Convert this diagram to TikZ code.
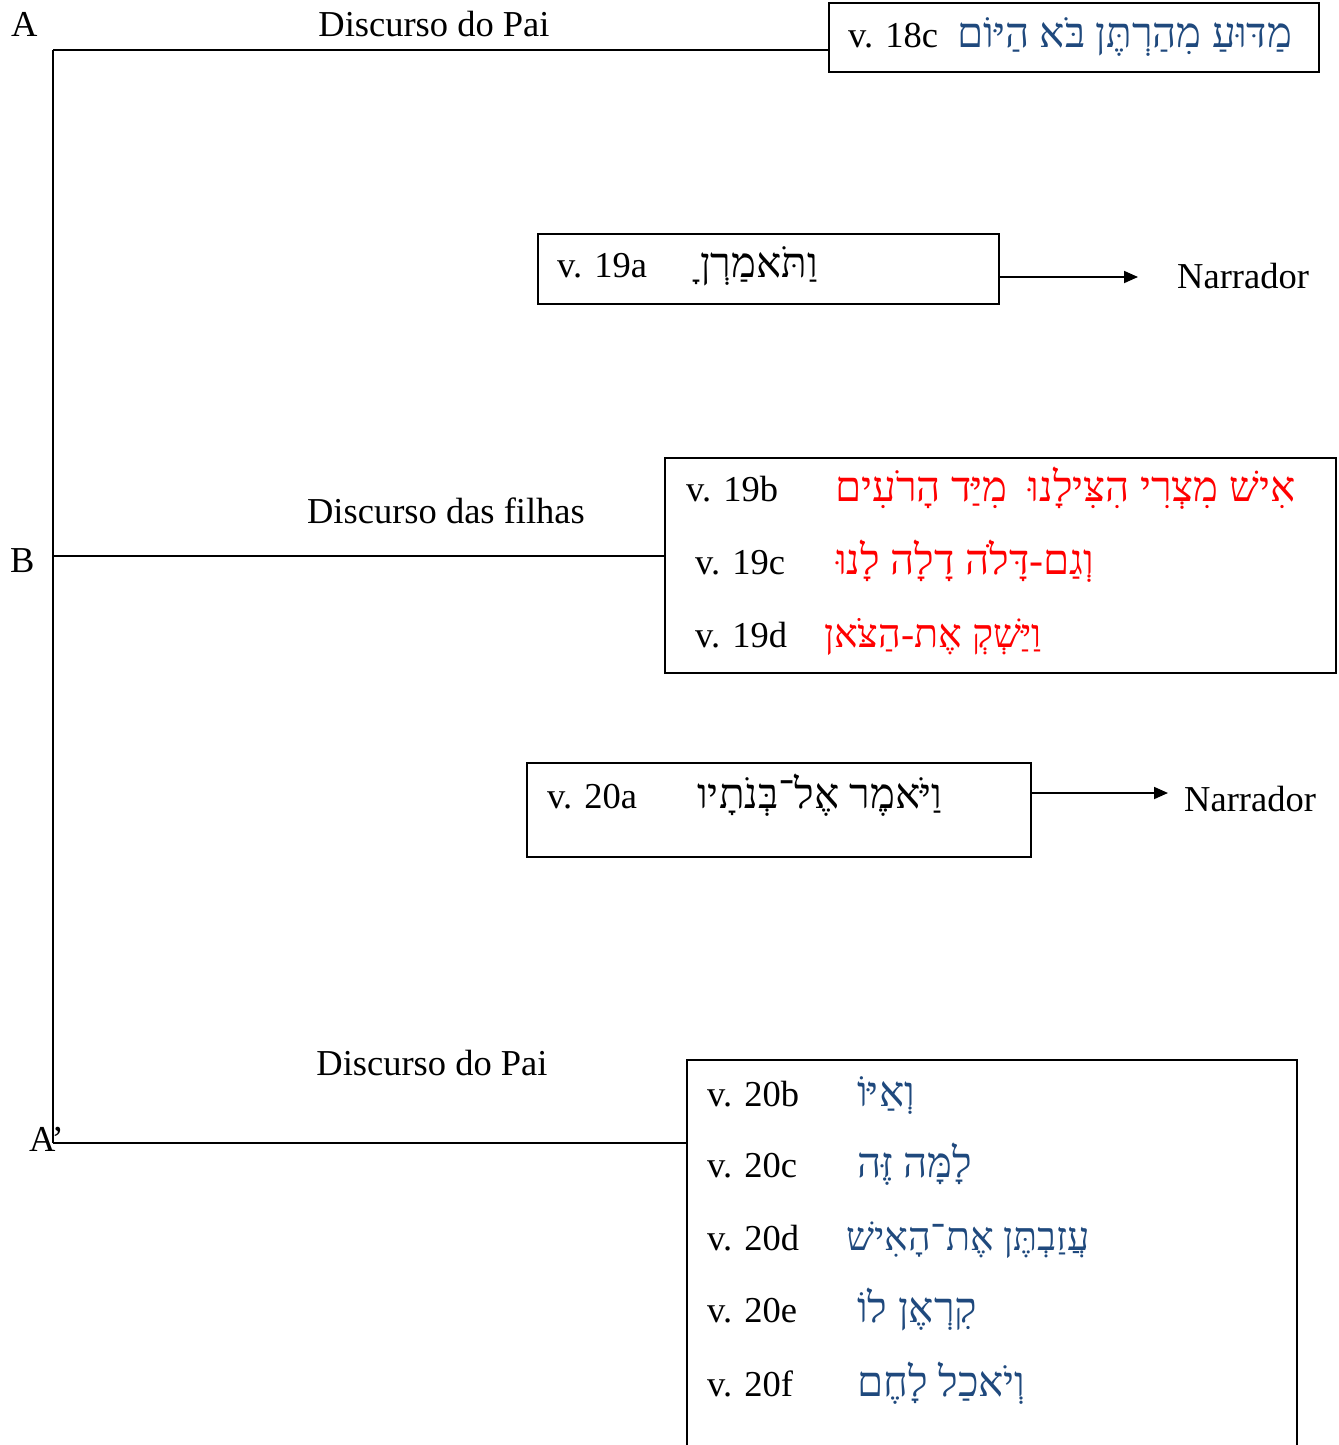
\documentclass[tikz,border=0pt]{standalone}
\usepackage{fontspec}
\setmainfont{Liberation Serif}
\newfontfamily\hebfont[Script=Hebrew]{Liberation Serif}
\TeXXeTstate=1
\usetikzlibrary{arrows.meta}
\definecolor{hebblue}{RGB}{31,73,125}
\definecolor{hebred}{RGB}{255,0,0}
\begin{document}
\begin{tikzpicture}[x=1pt,y=-1pt,
  txt/.style={anchor=base west,inner sep=0pt,font=\fontsize{36.5}{44}\selectfont},
  heb/.style={anchor=base west,inner sep=0pt,font=\hebfont\fontsize{42}{48}\selectfont},
  hebs/.style={anchor=base west,inner sep=0pt,font=\hebfont\fontsize{39.5}{48}\selectfont},
  boxn/.style={draw,line width=1.8pt,anchor=north west,inner sep=0pt},
  conn/.style={line width=1.8pt},
  arr/.style={line width=1.8pt,-{Triangle[length=14pt,width=12pt]}}]
\useasboundingbox (0,0) rectangle (1338,1445);
\clip (0,0) rectangle (1338,1445);
% boxes
\node[boxn,minimum width=490,minimum height=69] (b1) at (828,2) {};
\node[boxn,minimum width=461,minimum height=70] (b2) at (537,233) {};
\node[boxn,minimum width=671,minimum height=215] (b3) at (664,457) {};
\node[boxn,minimum width=504,minimum height=94] (b4) at (526,762) {};
\node[boxn,minimum width=610,minimum height=420] (b5) at (686,1059) {};
% level letters
\node[txt] (lA) at (11,37) {A};
\node[txt] (lB) at (10,572) {B};
\node[txt] (lA2) at (29,1151) {A’};
% discourse labels
\node[txt,anchor=base] (d1) at (434,37) {Discurso do Pai};
\node[txt,anchor=base] (d2) at (446,523) {Discurso das filhas};
\node[txt,anchor=base] (d3) at (432,1075) {Discurso do Pai};
% tree lines
\coordinate (ctop) at (53,50);
\coordinate (cmid) at (53,556);
\coordinate (cbot) at (53,1143);
\draw[conn] (ctop) -- (cbot);
\draw[conn] (ctop) -- (ctop -| b1.west);
\draw[conn] (cmid) -- (cmid -| b3.west);
\draw[conn] (cbot) -- (cbot -| b5.west);
% box 1
\node[txt] (v18c) at (848,48) {v. 18c};
\node[heb,text=hebblue] (h18c) at (957,48) {\beginR מַדּוּעַ מִהַרְתֶּן בֹּא הַיּוֹם\endR};
% box 2
\node[txt] (v19a) at (557,277) {v. 19a};
\node[heb] (h19a) at (700,277) {\beginR וַתֹּאמַרְןָ\endR};
\node[txt,anchor=base west] (n1) at (1177,288) {Narrador};
\coordinate (a1) at (1138,277);
\draw[arr] (b2.east |- a1) -- (a1);
% box 3
\node[txt] (v19b) at (686,501) {v. 19b};
\node[heb,text=hebred] (h19b) at (835,501) {\beginR אִישׁ מִצְרִי הִצִּילָנוּ\ \ מִיַּד הָרֹעִים\endR};
\node[txt] (v19c) at (695,574) {v. 19c};
\node[heb,text=hebred] (h19c) at (836,574) {\beginR וְגַם-דָּלֹה דָלָה לָנוּ\endR};
\node[txt] (v19d) at (695,647) {v. 19d};
\node[hebs,text=hebred] (h19d) at (824,647) {\beginR וַיַּשְׁקְ אֶת-הַצֹּאן\endR};
% box 4
\node[txt] (v20a) at (547,808) {v. 20a};
\node[heb] (h20a) at (697,808) {\beginR וַיֹּאמֶר אֶל־בְּנֹתָיו\endR};
\node[txt] (n2) at (1184,811) {Narrador};
\coordinate (a2) at (1168,793);
\draw[arr] (b4.east |- a2) -- (a2);
% box 5
\node[txt] (v20b) at (707,1106) {v. 20b};
\node[heb,text=hebblue] (h20b) at (857,1106) {\beginR וְאַיּוֹ\endR};
\node[txt] (v20c) at (707,1177) {v. 20c};
\node[heb,text=hebblue] (h20c) at (857,1177) {\beginR לָמָּה זֶּה\endR};
\node[txt] (v20d) at (707,1250) {v. 20d};
\node[hebs,text=hebblue] (h20d) at (846,1250) {\beginR עֲזַבְתֶּן אֶת־הָאִישׁ\endR};
\node[txt] (v20e) at (707,1322) {v. 20e};
\node[heb,text=hebblue] (h20e) at (857,1322) {\beginR קִרְאֶן לוֹ\endR};
\node[txt] (v20f) at (707,1396) {v. 20f};
\node[heb,text=hebblue] (h20f) at (857,1396) {\beginR וְיֹאכַל לָחֶם\endR};
\end{tikzpicture}
\end{document}
